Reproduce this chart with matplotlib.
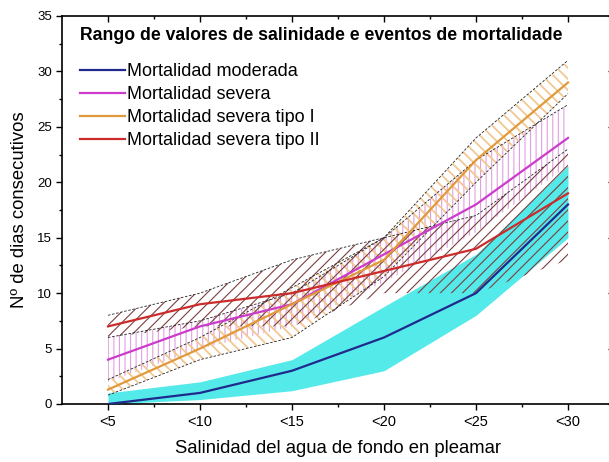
import numpy as np
import matplotlib
matplotlib.use("Agg")
import matplotlib.pyplot as plt

plt.rcParams['font.family'] = ['Liberation Sans', 'DejaVu Sans']
plt.rcParams['hatch.linewidth'] = 0.8

# categorias de salinidad
categorias = ['<5', '<10', '<15', '<20', '<25', '<30']

# Mortalidad moderada (linea + banda cian)
moderada = [0, 1, 3, 6, 10, 18]
moderada_sup = [1, 2, 4, 8.8, 13.5, 21.5]
moderada_inf = [0, 0.4, 1.2, 3, 8, 15]

# Mortalidad severa (banda con rayado vertical)
severa = [4, 7, 9, 13.5, 18, 24]
severa_sup = [6, 7.5, 10, 15, 22, 27]
severa_inf = [2, 5, 7, 11, 15.5, 21.5]

# Mortalidad severa tipo I (rayado \\)
tipo1 = [1.3, 5, 9, 13, 22, 29]
tipo1_sup = [2.2, 6, 10.5, 15, 24, 31]
tipo1_inf = [0.8, 4, 6, 11.5, 20, 28]

# Mortalidad severa tipo II (rayado //)
tipo2 = [7, 9, 10, 12, 14, 19]
tipo2_sup = [8, 10, 13, 15, 17, 23]
tipo2_inf = [6, 7, 7, 10, 10, 13]

x = np.arange(len(categorias))

fig = plt.figure(figsize=(6.09, 4.62), dpi=100)
ax = fig.add_axes([62 / 609, 1 - 404 / 462, 552 / 609, 388 / 462])


def banda(inf, sup, color, hatch, z, lw):
    xs = np.concatenate([x, x[::-1]])
    ys = np.concatenate([np.array(sup), np.array(inf)[::-1]])
    with plt.rc_context({'hatch.linewidth': lw}):
        ax.fill(xs, ys, facecolor='none', edgecolor=color, hatch=hatch,
                linewidth=0, zorder=z)


# banda cian
ax.fill_between(x, moderada_inf, moderada_sup, color='#55eaea', linewidth=0, zorder=1)

# bandas rayadas
banda(severa_inf, severa_sup, '#e0a0e0', '|||', 2, 0.8)
banda(tipo1_inf, tipo1_sup, '#f2c892', '\\\\\\', 3, 1.3)
banda(tipo2_inf, tipo2_sup, '#7a4040', '///', 4, 0.8)

# bordes discontinuos
for borde in [tipo2_sup, tipo1_sup, tipo1_inf, severa_sup]:
    ax.plot(x, borde, color='#222222', linewidth=0.6, linestyle=(0, (3, 2)), zorder=5)

# lineas medias
ax.plot(x, moderada, color='#1f2a8c', linewidth=1.6, label='Mortalidad moderada', zorder=6)
ax.plot(x, severa, color='#cc3ccc', linewidth=1.6, label='Mortalidad severa', zorder=6)
ax.plot(x, tipo1, color='#e09a3c', linewidth=1.6, label='Mortalidad severa tipo I', zorder=6)
ax.plot(x, tipo2, color='#cc2b2b', linewidth=1.6, label='Mortalidad severa tipo II', zorder=6)

ax.set_xlim(-0.5, 5.5)
ax.set_ylim(0, 35)
ax.set_xticks(x)
ax.set_xticklabels(categorias, fontsize=10.5)
ax.set_xticks(x[:-1] + 0.5, minor=True)
ax.set_yticks(np.arange(0, 36, 5))
ax.set_yticks(np.arange(2.5, 35, 5), minor=True)
ax.tick_params(axis='y', labelsize=9.5)

ax.tick_params(which='both', top=True, right=True)
ax.tick_params(axis='x', which='major', direction='out', length=4, width=1, pad=4)
ax.tick_params(axis='x', which='minor', direction='out', length=2.5, width=1)
ax.tick_params(axis='y', which='major', direction='out', length=4, width=1, pad=3)
ax.tick_params(axis='y', which='minor', direction='out', length=2.5, width=1)
# ticks superiores y derechos hacia dentro
for t in ax.xaxis.get_major_ticks() + ax.xaxis.get_minor_ticks():
    t.tick2line.set_marker(matplotlib.lines.TICKDOWN)
for t in ax.yaxis.get_major_ticks() + ax.yaxis.get_minor_ticks():
    t.tick2line.set_marker(matplotlib.lines.TICKLEFT)

for s in ax.spines.values():
    s.set_linewidth(1.2)

ax.set_xlabel('Salinidad del agua de fondo en pleamar', fontsize=13.3, labelpad=8)
ax.set_ylabel('Nº de dias consecutivos', fontsize=13.3, labelpad=7)

ax.text(18 / 552, (404 - 36) / 388,
        'Rango de valores de salinidade e eventos de mortalidade',
        transform=ax.transAxes, fontsize=12.7, fontweight='bold', va='center', ha='left')

ax.legend(loc='upper left', bbox_to_anchor=(18 / 552, (404 - 63) / 388),
          frameon=False, fontsize=13, handlelength=2.5, handletextpad=0.12,
          labelspacing=0.33, borderpad=0, borderaxespad=0)

plt.savefig('out.png', dpi=100)
